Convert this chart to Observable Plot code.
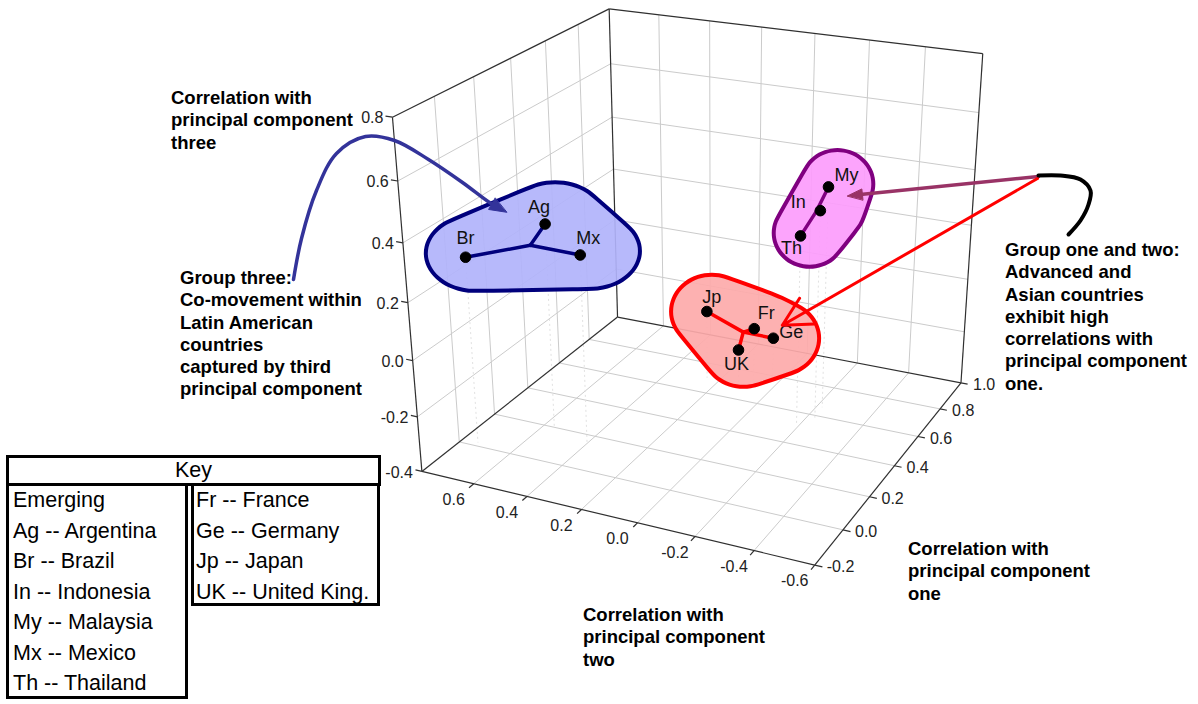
<!DOCTYPE html>
<html><head><meta charset="utf-8">
<script src="https://cdn.jsdelivr.net/npm/d3@7"></script>
<script src="https://cdn.jsdelivr.net/npm/@observablehq/plot@0.6"></script>
<style>
html,body{margin:0;padding:0;background:#fff;}
#wrap{position:relative;width:1198px;height:704px;overflow:hidden;font-family:"Liberation Sans",Arial,Helvetica,sans-serif;background:#fff;}
#wrap svg{position:absolute;left:0;top:0;}
.note{position:absolute;font-weight:bold;font-size:18.5px;line-height:22.3px;color:#000;white-space:nowrap;}
.kbox{position:absolute;border:3px solid #000;box-sizing:border-box;background:#fff;}
.ktext{position:absolute;font-size:21.5px;line-height:30.5px;white-space:nowrap;color:#000;}
</style></head>
<body><div id="wrap"></div>
<script>
// ---------------- data ----------------
const codes  = ["Ag","Br","Mx","In","My","Th","Fr","Ge","Jp","UK"];
const names  = ["Argentina","Brazil","Mexico","Indonesia","Malaysia","Thailand","France","Germany","Japan","United King."];
const groups = ["three","three","three","two","two","two","one","one","one","one"];
const emerging = ["Ag","Br","In","My","Mx","Th"];
const advanced = ["Fr","Ge","Jp","UK"];
// correlations with principal components one, two, three
const pc1 = [0.20, 0.02, 0.15, 0.58, 0.66, 0.52, 0.75, 0.78, 0.70, 0.69];
const pc2 = [0.56, 0.74, 0.40, -0.23, -0.22, -0.19, 0.09, 0.03, 0.25, 0.12];
const pc3 = [0.34, 0.27, 0.28, 0.36, 0.41, 0.29, -0.20, -0.24, -0.14, -0.26];
const pc1Ticks = [-0.2, 0.0, 0.2, 0.4, 0.6, 0.8, 1.0];
const pc2Ticks = [-0.6, -0.4, -0.2, 0.0, 0.2, 0.4, 0.6];
const pc3Ticks = [-0.4, -0.2, 0.0, 0.2, 0.4, 0.6, 0.8];
const pc1Range = [-0.2, 1.0];
const pc2Range = [0.8, -0.6];
const pc3Range = [-0.4, 0.8];
const axisTitles = {
  three: ["Correlation with","principal component","three"],
  two:   ["Correlation with","principal component","two"],
  one:   ["Correlation with","principal component","one"]
};
const noteGroup3 = ["Group three:","Co-movement within","Latin American","countries","captured by third","principal component"];
const noteGroup12 = ["Group one and two:","Advanced and","Asian countries","exhibit high","correlations with","principal component","one."];

// ---------------- layout / view ----------------
const W = 1198, H = 704;
const FONT = "'Liberation Sans', Arial, Helvetica, sans-serif";
// camera calibration: [pc2, pc1, pc3] of box corners / ticks -> screen
const VIEW_ANCHORS = [
  [[0.8,-0.2,-0.4],[421,471]], [[-0.6,-0.2,-0.4],[813,564]], [[-0.6,1.0,-0.4],[960,382]],
  [[0.8,1.0,-0.4],[617,317]], [[0.8,-0.2,0.8],[392,116]], [[0.8,1.0,0.8],[609,8]], [[-0.6,1.0,0.8],[982,53]],
  [[0.8,-0.2,-0.2],[416.4,415]], [[0.8,-0.2,0.0],[411.9,360]], [[0.8,-0.2,0.2],[407.2,302]],
  [[0.8,-0.2,0.4],[402.4,243]], [[0.8,-0.2,0.6],[397.4,182]],
  [[0.6,-0.2,-0.4],[474.3,483.3]], [[0.4,-0.2,-0.4],[526.7,496]], [[0.2,-0.2,-0.4],[580,509.3]],
  [[0.0,-0.2,-0.4],[638.3,521.7]], [[-0.2,-0.2,-0.4],[693.3,536.7]], [[-0.4,-0.2,-0.4],[753.3,550]],
  [[-0.6,0.0,-0.4],[843.3,529.3]], [[-0.6,0.2,-0.4],[870,496.7]], [[-0.6,0.4,-0.4],[895,465]],
  [[-0.6,0.6,-0.4],[918.3,436.7]], [[-0.6,0.8,-0.4],[938.3,408.3]]
];
const groupStyle = {
  three: {fill:"#b1b3fb", stroke:"#00007c", line:"#00007c", rx:50, ry:38, dx:10, dy:-4},
  two:   {fill:"#fc9cfc", stroke:"#800080", line:"#800080", rx:36, ry:34, dx:9,  dy:-3},
  one:   {fill:"#fdaaaa", stroke:"#ff0000", line:"#ff0000", rx:41, ry:37, dx:5,  dy:0}
};
const labelOffset = {Ag:[-6,-17],Br:[0,-19],Mx:[8,-17],My:[18,-12],In:[-22,-8],Th:[-9,12],Jp:[5,-14],Fr:[12,-15],Ge:[18,-6],UK:[-2,14]};

// ---------------- projection (perspective camera fitted by DLT) ----------------
function fitCamera(anchors){
  const sx=600, sy=300, sc=300, A=[], b=[];
  for (const [[X,Y,Z],[px,py]] of anchors){
    const x=(px-sx)/sc, y=(py-sy)/sc;
    A.push([X,Y,Z,1,0,0,0,0,-x*X,-x*Y,-x*Z]); b.push(x);
    A.push([0,0,0,0,X,Y,Z,1,-y*X,-y*Y,-y*Z]); b.push(y);
  }
  const n=11, M=[];
  for (let i=0;i<n;i++) M.push(new Array(n+1).fill(0));
  A.forEach((r,k)=>{for(let i=0;i<n;i++){for(let j=0;j<n;j++) M[i][j]+=r[i]*r[j]; M[i][n]+=r[i]*b[k];}});
  for (let c=0;c<n;c++){
    let p=c; for(let r=c+1;r<n;r++) if(Math.abs(M[r][c])>Math.abs(M[p][c])) p=r;
    [M[c],M[p]]=[M[p],M[c]];
    for(let r=0;r<n;r++){ if(r===c) continue; const f=M[r][c]/M[c][c]; for(let j=c;j<=n;j++) M[r][j]-=f*M[c][j]; }
  }
  const q=M.map((row,i)=>row[n]/row[i]);
  return ([X,Y,Z])=>{const d=q[8]*X+q[9]*Y+q[10]*Z+1;
    return [sx+sc*(q[0]*X+q[1]*Y+q[2]*Z+q[3])/d, sy+sc*(q[4]*X+q[5]*Y+q[6]*Z+q[7])/d];};
}
const project = fitCamera(VIEW_ANCHORS);
// coordinates: [pc2, pc1, pc3]
const [U0,U1]=pc2Range, [V0,V1]=pc1Range, [Z0,Z1]=pc3Range;
const seg = (a,b,extra={}) => { const [x1,y1]=project(a), [x2,y2]=project(b); return {x1,y1,x2,y2,...extra}; };
const inner = (ticks, r) => ticks.filter(t => t > Math.min(...r)+1e-9 && t < Math.max(...r)-1e-9);

const grid = [];
for (const v of inner(pc1Ticks,pc1Range)) { grid.push(seg([U0,v,Z0],[U1,v,Z0])); grid.push(seg([U0,v,Z0],[U0,v,Z1])); }
for (const u of inner(pc2Ticks,pc2Range)) { grid.push(seg([u,V0,Z0],[u,V1,Z0])); grid.push(seg([u,V1,Z0],[u,V1,Z1])); }
for (const w of inner(pc3Ticks,pc3Range)) { grid.push(seg([U0,V0,w],[U0,V1,w])); grid.push(seg([U0,V1,w],[U1,V1,w])); }

const cA=[U0,V0,Z0], cB=[U1,V0,Z0], cC=[U1,V1,Z0], cD=[U0,V1,Z0], cE=[U0,V0,Z1], cF=[U0,V1,Z1], cG=[U1,V1,Z1];
const edges = [[cA,cB],[cB,cC],[cC,cD],[cD,cA],[cA,cE],[cE,cF],[cF,cG],[cG,cC],[cD,cF]].map(([a,b])=>seg(a,b));

const tickLen = 0.025;
const ticks = [
  ...pc3Ticks.map(w => seg([U0,V0,w],[U0+tickLen,V0,w])),
  ...pc2Ticks.map(u => seg([u,V0,Z0],[u,V0-tickLen,Z0])),
  ...pc1Ticks.map(v => seg([U1,v,Z0],[U1-tickLen,v,Z0]))
];
const fmt = v => v.toFixed(1);
const lab = (p, t) => { const [x,y]=project(p); return {x,y,t}; };
const zLabels = pc3Ticks.map(w => lab([U0,V0,w], fmt(w)));
const uLabels = pc2Ticks.map(u => lab([u,V0,Z0], fmt(u)));
const vLabels = pc1Ticks.map(v => lab([U1,v,Z0], fmt(v)));

// data points
const points = codes.map((code,i) => {
  const [x,y] = project([pc2[i],pc1[i],pc3[i]]);
  const [fx,fy] = project([pc2[i],pc1[i],Z0]);
  const o = labelOffset[code];
  return {code, name:names[i], group:groups[i], x, y, fx, fy, lx:x+o[0], ly:y+o[1]};
});
const byCode = new Map(points.map(p=>[p.code,p]));
const groupIds = ["three","two","one"];
const centroid = new Map(groupIds.map(g => {
  const idx = d3.range(codes.length).filter(i=>groups[i]===g);
  const [x,y] = project([d3.mean(idx,i=>pc2[i]), d3.mean(idx,i=>pc1[i]), d3.mean(idx,i=>pc3[i])]);
  return [g,{x,y}];
}));
const connectors = points.map(p => ({x1:p.x, y1:p.y, x2:centroid.get(p.group).x, y2:centroid.get(p.group).y, group:p.group}));

function blob(g){
  const s = groupStyle[g], cloud = [];
  for (const p of points.filter(p=>p.group===g))
    for (let k=0;k<36;k++){ const a=2*Math.PI*k/36; cloud.push([p.x+s.dx+s.rx*Math.cos(a), p.y+s.dy+s.ry*Math.sin(a)]); }
  return d3.polygonHull(cloud);
}
function headTriangle(from, tip, len, hw){
  const dx=tip[0]-from[0], dy=tip[1]-from[1], L=Math.hypot(dx,dy), ux=dx/L, uy=dy/L;
  const bx=tip[0]-ux*len, by=tip[1]-uy*len;
  return [tip, [bx-uy*hw, by+ux*hw], [bx+uy*hw, by-ux*hw]];
}

// annotation arrows (hand-drawn style), tips anchored to the data
const Br = byCode.get("Br"), My = byCode.get("My"), Ge = byCode.get("Ge");
const blueTip = [Br.x+41, Br.y-45];
const bluePath = [[293,279],[301,238],[316,190],[336,153],[365,136],[394,140],[428,159],[462,182],[489,202]];
const blueLast = bluePath[bluePath.length-1];
const purpleStart = [1038,176], purpleTip = [My.x+19, My.y+9];
const redArrow = {x1:1037, y1:178, x2:Ge.x+9, y2:Ge.y-13};
const squiggle = [[1038,175],[1060,175],[1080,179],[1090,190],[1088,204],[1080,220],[1068,234]];
const xy = {x:d=>d[0], y:d=>d[1]};

const marks = [
  Plot.link(grid, {x1:"x1",y1:"y1",x2:"x2",y2:"y2", stroke:"#cbcbcb", strokeWidth:1}),
  Plot.link(points, {x1:"x",y1:"y",x2:"fx",y2:"fy", stroke:"#e2e2e2", strokeWidth:1, strokeDasharray:"2,3"}),
  Plot.link(edges, {x1:"x1",y1:"y1",x2:"x2",y2:"y2", stroke:"#303030", strokeWidth:1.2}),
  Plot.link(ticks, {x1:"x1",y1:"y1",x2:"x2",y2:"y2", stroke:"#303030", strokeWidth:1.2}),
  Plot.text(zLabels, {x:"x", y:"y", text:"t", dx:-9, dy:1, textAnchor:"end", fontSize:16, fill:"#222", fontFamily:FONT}),
  Plot.text(uLabels, {x:"x", y:"y", text:"t", dx:-20, dy:16, textAnchor:"middle", fontSize:16, fill:"#222", fontFamily:FONT}),
  Plot.text(vLabels, {x:"x", y:"y", text:"t", dx:12, dy:2, textAnchor:"start", fontSize:16, fill:"#222", fontFamily:FONT}),
  ...groupIds.map(g => Plot.line(blob(g), {...xy, curve:"basis-closed",
      fill:groupStyle[g].fill, fillOpacity:0.92, stroke:groupStyle[g].stroke, strokeWidth:4})),
  ...groupIds.map(g => Plot.link(connectors.filter(c=>c.group===g), {x1:"x1",y1:"y1",x2:"x2",y2:"y2",
      stroke:groupStyle[g].line, strokeWidth:3.5, strokeLinecap:"round"})),
  Plot.dot(points, {x:"x", y:"y", r:5.3, fill:"#000", stroke:"#000", strokeWidth:1}),
  Plot.text(points, {x:"lx", y:"ly", text:"code", fontSize:18, fill:"#111", fontFamily:FONT}),
  // blue curved arrow
  Plot.line([...bluePath, headTriangle(blueLast, blueTip, 8, 0)[1]], {...xy, curve:"catmull-rom", stroke:"#33339a", strokeWidth:3.5}),
  Plot.line(headTriangle(blueLast, blueTip, 17, 6.5), {...xy, curve:"linear-closed", fill:"#33339a", stroke:"#33339a", strokeWidth:1}),
  // purple arrow
  Plot.line([purpleStart, headTriangle(purpleStart, purpleTip, 8, 0)[1]], {...xy, stroke:"#993366", strokeWidth:3.5}),
  Plot.line(headTriangle(purpleStart, purpleTip, 15, 5.5), {...xy, curve:"linear-closed", fill:"#993366", stroke:"#993366", strokeWidth:1}),
  // red arrow
  Plot.arrow([redArrow], {x1:"x1",y1:"y1",x2:"x2",y2:"y2", stroke:"#ff0000", strokeWidth:3, headLength:16, headAngle:55}),
  Plot.line(squiggle, {...xy, curve:"catmull-rom", stroke:"#000", strokeWidth:4})
];

const chart = Plot.plot({
  width: W, height: H, margin: 0,
  x: {domain:[0,W], range:[0,W], axis:null},
  y: {domain:[0,H], range:[0,H], axis:null},
  style: {fontFamily: FONT, background: "transparent", overflow: "visible"},
  marks
});
const wrap = document.getElementById("wrap");
wrap.appendChild(chart);

// ---------------- annotations (HTML) ----------------
function note(lines, left, top){
  const d = document.createElement("div");
  d.className = "note"; d.style.left = left+"px"; d.style.top = top+"px";
  d.innerHTML = lines.join("<br>");
  wrap.appendChild(d);
}
note(axisTitles.three, 171, 87);
note(noteGroup3, 180, 267);
note(noteGroup12, 1005, 239);
note(axisTitles.two, 583, 604);
note(axisTitles.one, 908, 538);

// ---------------- key ----------------
function box(left, top, w, h){
  const d = document.createElement("div"); d.className="kbox";
  Object.assign(d.style, {left:left+"px", top:top+"px", width:w+"px", height:h+"px"});
  wrap.appendChild(d); return d;
}
function ktext(lines, left, top, align){
  const d = document.createElement("div"); d.className="ktext";
  Object.assign(d.style, {left:left+"px", top:top+"px"});
  if (align) { d.style.width = "375px"; d.style.textAlign = align; }
  d.innerHTML = lines.join("<br>");
  wrap.appendChild(d);
}
const nameOf = new Map(codes.map((c,i)=>[c,names[i]]));
box(6, 483, 182, 216);
box(191, 483, 189, 123);
box(6, 455, 375, 31);
ktext(["Key"], 6, 455, "center");
ktext(["Emerging", ...emerging.map(c => `${c} -- ${nameOf.get(c)}`)], 13, 485);
ktext(advanced.map(c => `${c} -- ${nameOf.get(c)}`), 196, 485);
</script>
</body></html>
